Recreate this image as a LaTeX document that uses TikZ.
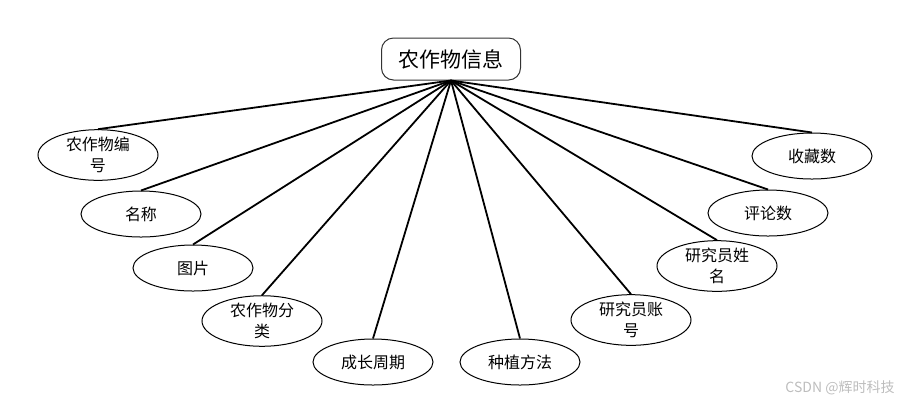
\documentclass[tikz,border=0pt]{standalone}
\usepackage{fontspec}
\newfontfamily\cjk{Noto Sans CJK SC}
\usetikzlibrary{shapes.geometric,positioning}
\definecolor{lineBlack}{HTML}{000000}
\definecolor{markGray}{HTML}{BDBDBD}

\begin{document}
\begin{tikzpicture}[
  x=0.5pt, y=-0.5pt,
  entity/.style={draw=lineBlack!80, rounded corners=6pt, line width=0.5pt, minimum width=69.5pt, minimum height=21pt, inner sep=0pt, font=\cjk\fontsize{10.5}{12}\selectfont},
  attr/.style={draw=lineBlack, ellipse, line width=0.5pt, minimum width=60pt, minimum height=23pt, inner sep=0pt, align=center, font=\cjk\fontsize{8}{10.5}\selectfont},
  link/.style={line width=0.9pt, lineBlack}
]
\useasboundingbox (0,0) rectangle (912,404);
% entity
\node[entity] (crop) at (451,59) {农作物信息};
% attributes
\node[attr] (cropno) at (98,155) {农作物编\\号};
\node[attr] (cropname) at (141,214) {名称};
\node[attr] (pic) at (193,268) {图片};
\node[attr] (croptype) at (262,321) {农作物分\\类};
\node[attr] (period) at (373,362) {成长周期};
\node[attr] (method) at (520,362) {种植方法};
\node[attr] (resno) at (631,320) {研究员账\\号};
\node[attr] (resname) at (717,266) {研究员姓\\名};
\node[attr] (cmts) at (768,213) {评论数};
\node[attr] (favs) at (812,156) {收藏数};
% links
\draw[link] (crop.south) -- (cropno.north);
\draw[link] (crop.south) -- (cropname.north);
\draw[link] (crop.south) -- (pic.north);
\draw[link] (crop.south) -- (croptype.north);
\draw[link] (crop.south) -- (period.north);
\draw[link] (crop.south) -- (method.north);
\draw[link] (crop.south) -- (resno.north);
\draw[link] (crop.south) -- (resname.north);
\draw[link] (crop.south) -- (cmts.north);
\draw[link] (crop.south) -- (favs.north);
% watermark
\node[text=markGray, font=\cjk\fontsize{7}{8}\selectfont] (mark) at (840,388) {CSDN @辉时科技};
\end{tikzpicture}
\end{document}
